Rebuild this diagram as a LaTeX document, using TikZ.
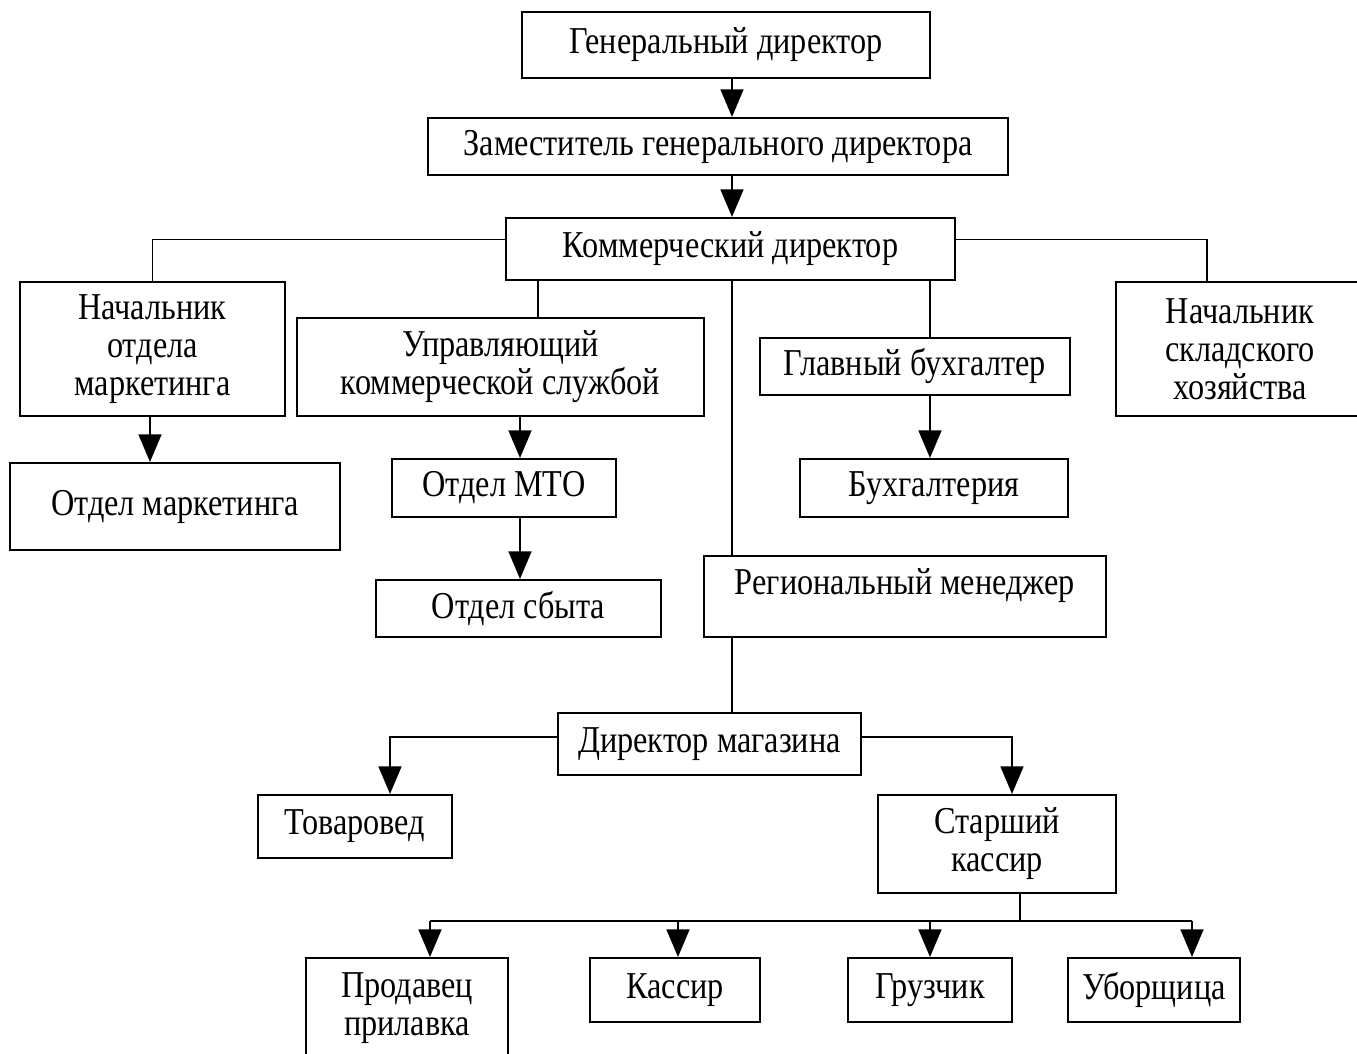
\documentclass[tikz,border=0pt]{standalone}
\usepackage{fontspec}
\setmainfont[FakeStretch = 0.85]{Liberation Serif}
\usetikzlibrary{arrows}

\begin{document}
\begin{tikzpicture}[x = 0.1mm, y = -0.1mm]
\tikzstyle{BoxStyle}=[shape = rectangle,
                      draw,
                      line width = 0.6pt,
                      inner sep = 0pt,
                      align = center,
                      font = \fontsize{10.8}{10.8}\selectfont]
\tikzstyle{LineStyle}=[line width = 0.5pt]
\tikzstyle{BusStyle}=[line width = 0.8pt]
\tikzstyle{ArrowStyle}=[line width = 0.8pt, -triangle 45]
\useasboundingbox (0,0) rectangle (1357,1054);
\node[BoxStyle, minimum width = 40.8mm, minimum height = 6.6mm] (gen) at (726,45) {Генеральный директор};
\node[BoxStyle, minimum width = 58mm, minimum height = 5.7mm] (zam) at (718,146.5) {Заместитель генерального директора};
\node[BoxStyle, minimum width = 44.9mm, minimum height = 6.2mm] (kom) at (730.5,249) {Коммерческий директор};
\node[BoxStyle, minimum width = 26.5mm, minimum height = 13.4mm] (nachmark) at (152.5,349) {Начальник\\отдела\\маркетинга};
\node[BoxStyle, minimum width = 40.7mm, minimum height = 9.8mm] (upr) at (500.5,367) {Управляющий\\коммерческой службой};
\node[BoxStyle, minimum width = 31mm, minimum height = 5.7mm] (glbuh) at (915,366.5) {Главный бухгалтер};
\node[BoxStyle, minimum width = 24.8mm, minimum height = 13.4mm] (nachsklad) at (1240,349) {Начальник\\складского\\хозяйства};
\node[BoxStyle, minimum width = 33mm, minimum height = 8.7mm] (otdmark) at (175,506.5) {Отдел маркетинга};
\node[BoxStyle, minimum width = 22.4mm, minimum height = 5.8mm] (mto) at (504,488) {Отдел МТО};
\node[BoxStyle, minimum width = 28.5mm, minimum height = 5.7mm] (sbyt) at (518.5,608.5) {Отдел сбыта};
\node[BoxStyle, minimum width = 26.8mm, minimum height = 5.8mm] (buh) at (934,488) {Бухгалтерия};
\node[BoxStyle, minimum width = 40.2mm, minimum height = 8.1mm, text depth = 2.9mm] (reg) at (905,596.5) {Региональный менеджер};
\node[BoxStyle, minimum width = 30.3mm, minimum height = 6.2mm] (dirmag) at (709.5,744) {Директор магазина};
\node[BoxStyle, minimum width = 19.4mm, minimum height = 6.3mm] (tov) at (355,826.5) {Товаровед};
\node[BoxStyle, minimum width = 23.8mm, minimum height = 9.8mm] (starsh) at (997,844) {Старший\\кассир};
\node[BoxStyle, minimum width = 20.2mm, minimum height = 10mm] (prod) at (407,1008) {Продавец\\прилавка};
\node[BoxStyle, minimum width = 17mm, minimum height = 6.4mm] (kassir) at (675,990) {Кассир};
\node[BoxStyle, minimum width = 16.4mm, minimum height = 6.4mm] (gruz) at (930,990) {Грузчик};
\node[BoxStyle, minimum width = 17.2mm, minimum height = 6.4mm] (ubor) at (1154,990) {Уборщица};
\coordinate (b1) at (430,921);
\coordinate (b2) at (678,921);
\coordinate (b3) at (930,921);
\coordinate (b4) at (1192,921);
\draw[ArrowStyle] ([xshift = 0.6mm]gen.south) -- ([xshift = 0.6mm]gen.south |- zam.north);
\draw[ArrowStyle] ([xshift = 1.4mm]zam.south) -- ([xshift = 1.4mm]zam.south |- kom.north);
\draw[LineStyle] ([yshift = 0.95mm]kom.west) -| (nachmark.north);
\draw[LineStyle] ([yshift = 0.95mm]kom.east) -| ([xshift = -3.3mm]nachsklad.north);
\draw[LineStyle] ([xshift = 3.75mm]upr.north |- kom.south) -- ([xshift = 3.75mm]upr.north);
\draw[LineStyle] ([xshift = 1.5mm]glbuh.north |- kom.south) -- ([xshift = 1.5mm]glbuh.north);
\draw[LineStyle] ([xshift = -17.3mm]reg.north |- kom.south) -- ([xshift = -17.3mm]reg.north);
\draw[ArrowStyle] ([xshift = -0.25mm]nachmark.south) -- ([xshift = -0.25mm]nachmark.south |- otdmark.north);
\draw[ArrowStyle] ([xshift = 1.95mm]upr.south) -- ([xshift = 1.95mm]upr.south |- mto.north);
\draw[ArrowStyle] ([xshift = 1.6mm]mto.south) -- ([xshift = 1.6mm]mto.south |- sbyt.north);
\draw[ArrowStyle] ([xshift = 1.5mm]glbuh.south) -- ([xshift = 1.5mm]glbuh.south |- buh.north);
\draw[LineStyle] ([xshift = -17.3mm]reg.south) -- ([xshift = -17.3mm]reg.south |- dirmag.north);
\draw[ArrowStyle] ([yshift = 0.7mm]dirmag.west) -| ([xshift = 3.5mm]tov.north);
\draw[ArrowStyle] ([yshift = 0.7mm]dirmag.east) -| ([xshift = 1.5mm]starsh.north);
\draw[LineStyle] ([xshift = 2.3mm]starsh.south) -- ([xshift = 2.3mm]starsh.south |- b1);
\draw[BusStyle] (b1) -- (b4);
\draw[ArrowStyle] (b1) -- (b1 |- prod.north);
\draw[ArrowStyle] (b2) -- (b2 |- kassir.north);
\draw[ArrowStyle] (b3) -- (b3 |- gruz.north);
\draw[ArrowStyle] (b4) -- (b4 |- ubor.north);
\end{tikzpicture}
\end{document}
